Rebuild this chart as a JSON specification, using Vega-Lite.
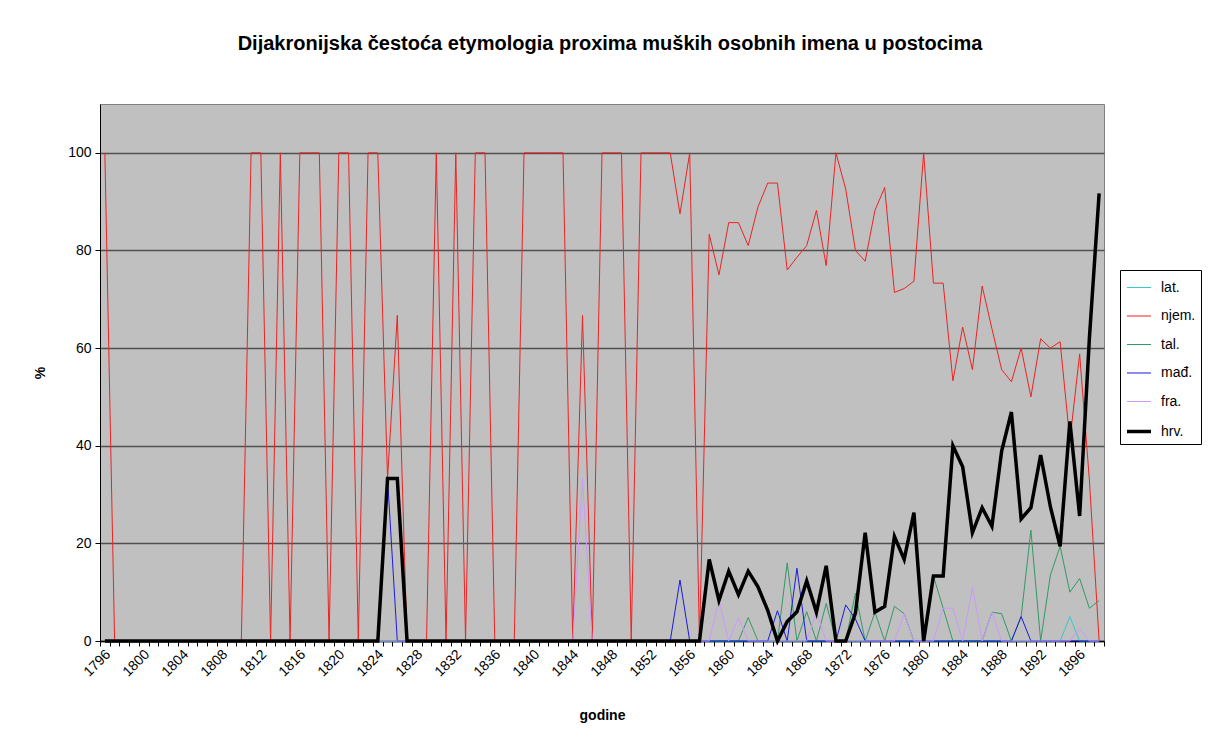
{
"$schema": "https://vega.github.io/schema/vega-lite/v6.json",
"width": 1004, "height": 537,
"autosize": {"type": "none"},
"padding": {"left": 100, "top": 104, "right": 104, "bottom": 99},
"background": "white",
"title": {"text": "Dijakronijska čestoća etymologia proxima muških osobnih imena u postocima", "fontSize": 20, "fontWeight": "bold", "font": "Liberation Sans", "offset": 50, "anchor": "middle", "dx": 8, "color": "black"},
"data": {"values": [
{"g":1796,"lat":0,"njem":100,"tal":0,"mađ":0,"fra":0,"hrv":0},
{"g":1797,"lat":0,"njem":0,"tal":0,"mađ":0,"fra":0,"hrv":0},
{"g":1798,"lat":0,"njem":0,"tal":0,"mađ":0,"fra":0,"hrv":0},
{"g":1799,"lat":0,"njem":0,"tal":0,"mađ":0,"fra":0,"hrv":0},
{"g":1800,"lat":0,"njem":0,"tal":0,"mađ":0,"fra":0,"hrv":0},
{"g":1801,"lat":0,"njem":0,"tal":0,"mađ":0,"fra":0,"hrv":0},
{"g":1802,"lat":0,"njem":0,"tal":0,"mađ":0,"fra":0,"hrv":0},
{"g":1803,"lat":0,"njem":0,"tal":0,"mađ":0,"fra":0,"hrv":0},
{"g":1804,"lat":0,"njem":0,"tal":0,"mađ":0,"fra":0,"hrv":0},
{"g":1805,"lat":0,"njem":0,"tal":0,"mađ":0,"fra":0,"hrv":0},
{"g":1806,"lat":0,"njem":0,"tal":0,"mađ":0,"fra":0,"hrv":0},
{"g":1807,"lat":0,"njem":0,"tal":0,"mađ":0,"fra":0,"hrv":0},
{"g":1808,"lat":0,"njem":0,"tal":0,"mađ":0,"fra":0,"hrv":0},
{"g":1809,"lat":0,"njem":0,"tal":0,"mađ":0,"fra":0,"hrv":0},
{"g":1810,"lat":0,"njem":0,"tal":0,"mađ":0,"fra":0,"hrv":0},
{"g":1811,"lat":0,"njem":100,"tal":0,"mađ":0,"fra":0,"hrv":0},
{"g":1812,"lat":0,"njem":100,"tal":0,"mađ":0,"fra":0,"hrv":0},
{"g":1813,"lat":0,"njem":0,"tal":0,"mađ":0,"fra":0,"hrv":0},
{"g":1814,"lat":0,"njem":100,"tal":0,"mađ":0,"fra":0,"hrv":0},
{"g":1815,"lat":0,"njem":0,"tal":0,"mađ":0,"fra":0,"hrv":0},
{"g":1816,"lat":0,"njem":100,"tal":0,"mađ":0,"fra":0,"hrv":0},
{"g":1817,"lat":0,"njem":100,"tal":0,"mađ":0,"fra":0,"hrv":0},
{"g":1818,"lat":0,"njem":100,"tal":0,"mađ":0,"fra":0,"hrv":0},
{"g":1819,"lat":0,"njem":0,"tal":0,"mađ":0,"fra":0,"hrv":0},
{"g":1820,"lat":0,"njem":100,"tal":0,"mađ":0,"fra":0,"hrv":0},
{"g":1821,"lat":0,"njem":100,"tal":0,"mađ":0,"fra":0,"hrv":0},
{"g":1822,"lat":0,"njem":0,"tal":0,"mađ":0,"fra":0,"hrv":0},
{"g":1823,"lat":0,"njem":100,"tal":0,"mađ":0,"fra":0,"hrv":0},
{"g":1824,"lat":0,"njem":100,"tal":0,"mađ":0,"fra":0,"hrv":0},
{"g":1825,"lat":0,"njem":33.3,"tal":0,"mađ":33.3,"fra":0,"hrv":33.3},
{"g":1826,"lat":0,"njem":66.7,"tal":0,"mađ":0,"fra":0,"hrv":33.3},
{"g":1827,"lat":0,"njem":0,"tal":0,"mađ":0,"fra":0,"hrv":0},
{"g":1828,"lat":0,"njem":0,"tal":0,"mađ":0,"fra":0,"hrv":0},
{"g":1829,"lat":0,"njem":0,"tal":0,"mađ":0,"fra":0,"hrv":0},
{"g":1830,"lat":0,"njem":100,"tal":0,"mađ":0,"fra":0,"hrv":0},
{"g":1831,"lat":0,"njem":0,"tal":0,"mađ":0,"fra":0,"hrv":0},
{"g":1832,"lat":0,"njem":100,"tal":0,"mađ":0,"fra":0,"hrv":0},
{"g":1833,"lat":0,"njem":0,"tal":0,"mađ":0,"fra":0,"hrv":0},
{"g":1834,"lat":0,"njem":100,"tal":0,"mađ":0,"fra":0,"hrv":0},
{"g":1835,"lat":0,"njem":100,"tal":0,"mađ":0,"fra":0,"hrv":0},
{"g":1836,"lat":0,"njem":0,"tal":0,"mađ":0,"fra":0,"hrv":0},
{"g":1837,"lat":0,"njem":0,"tal":0,"mađ":0,"fra":0,"hrv":0},
{"g":1838,"lat":0,"njem":0,"tal":0,"mađ":0,"fra":0,"hrv":0},
{"g":1839,"lat":0,"njem":100,"tal":0,"mađ":0,"fra":0,"hrv":0},
{"g":1840,"lat":0,"njem":100,"tal":0,"mađ":0,"fra":0,"hrv":0},
{"g":1841,"lat":0,"njem":100,"tal":0,"mađ":0,"fra":0,"hrv":0},
{"g":1842,"lat":0,"njem":100,"tal":0,"mađ":0,"fra":0,"hrv":0},
{"g":1843,"lat":0,"njem":100,"tal":0,"mađ":0,"fra":0,"hrv":0},
{"g":1844,"lat":0,"njem":0,"tal":0,"mađ":0,"fra":0,"hrv":0},
{"g":1845,"lat":0,"njem":66.7,"tal":0,"mađ":0,"fra":33.3,"hrv":0},
{"g":1846,"lat":0,"njem":0,"tal":0,"mađ":0,"fra":0,"hrv":0},
{"g":1847,"lat":0,"njem":100,"tal":0,"mađ":0,"fra":0,"hrv":0},
{"g":1848,"lat":0,"njem":100,"tal":0,"mađ":0,"fra":0,"hrv":0},
{"g":1849,"lat":0,"njem":100,"tal":0,"mađ":0,"fra":0,"hrv":0},
{"g":1850,"lat":0,"njem":0,"tal":0,"mađ":0,"fra":0,"hrv":0},
{"g":1851,"lat":0,"njem":100,"tal":0,"mađ":0,"fra":0,"hrv":0},
{"g":1852,"lat":0,"njem":100,"tal":0,"mađ":0,"fra":0,"hrv":0},
{"g":1853,"lat":0,"njem":100,"tal":0,"mađ":0,"fra":0,"hrv":0},
{"g":1854,"lat":0,"njem":100,"tal":0,"mađ":0,"fra":0,"hrv":0},
{"g":1855,"lat":0,"njem":87.5,"tal":0,"mađ":12.5,"fra":0,"hrv":0},
{"g":1856,"lat":0,"njem":100,"tal":0,"mađ":0,"fra":0,"hrv":0},
{"g":1857,"lat":0,"njem":0,"tal":0,"mađ":0,"fra":0,"hrv":0},
{"g":1858,"lat":0,"njem":83.3,"tal":0,"mađ":0,"fra":0,"hrv":16.7},
{"g":1859,"lat":0,"njem":75,"tal":0,"mađ":0,"fra":8.3,"hrv":8.3},
{"g":1860,"lat":0,"njem":85.7,"tal":0,"mađ":0,"fra":0,"hrv":14.3},
{"g":1861,"lat":0,"njem":85.7,"tal":0,"mađ":0,"fra":4.8,"hrv":9.5},
{"g":1862,"lat":0,"njem":81,"tal":4.8,"mađ":0,"fra":0,"hrv":14.3},
{"g":1863,"lat":0,"njem":88.9,"tal":0,"mađ":0,"fra":0,"hrv":11.1},
{"g":1864,"lat":0,"njem":93.8,"tal":0,"mađ":0,"fra":0,"hrv":6.3},
{"g":1865,"lat":0,"njem":93.8,"tal":0,"mađ":6.2,"fra":0,"hrv":0},
{"g":1866,"lat":0,"njem":76,"tal":16,"mađ":0,"fra":0,"hrv":4},
{"g":1867,"lat":0,"njem":78.6,"tal":0,"mađ":14.9,"fra":0,"hrv":6},
{"g":1868,"lat":0,"njem":81,"tal":6,"mađ":0,"fra":0,"hrv":12.3},
{"g":1869,"lat":0,"njem":88.2,"tal":0,"mađ":0,"fra":5.9,"hrv":5.9},
{"g":1870,"lat":0,"njem":76.9,"tal":7.7,"mađ":0,"fra":0,"hrv":15.4},
{"g":1871,"lat":0,"njem":100,"tal":0,"mađ":0,"fra":0,"hrv":0},
{"g":1872,"lat":0,"njem":92.6,"tal":0,"mađ":7.4,"fra":0,"hrv":0},
{"g":1873,"lat":0,"njem":80,"tal":9.8,"mađ":4.5,"fra":0,"hrv":5.7},
{"g":1874,"lat":0,"njem":77.8,"tal":0,"mađ":0,"fra":0,"hrv":22.2},
{"g":1875,"lat":0,"njem":88.2,"tal":5.9,"mađ":0,"fra":0,"hrv":5.9},
{"g":1876,"lat":0,"njem":92.9,"tal":0,"mađ":0,"fra":0,"hrv":7.1},
{"g":1877,"lat":0,"njem":71.4,"tal":7.1,"mađ":0,"fra":0,"hrv":21.4},
{"g":1878,"lat":0,"njem":72.2,"tal":5.6,"mađ":0,"fra":5.6,"hrv":16.7},
{"g":1879,"lat":0,"njem":73.7,"tal":0,"mađ":0,"fra":0,"hrv":26.3},
{"g":1880,"lat":0,"njem":100,"tal":0,"mađ":0,"fra":0,"hrv":0},
{"g":1881,"lat":0,"njem":73.3,"tal":13.3,"mađ":0,"fra":0,"hrv":13.3},
{"g":1882,"lat":0,"njem":73.3,"tal":6.7,"mađ":0,"fra":6.7,"hrv":13.3},
{"g":1883,"lat":0,"njem":53.3,"tal":0,"mađ":0,"fra":6.7,"hrv":40},
{"g":1884,"lat":0,"njem":64.3,"tal":0,"mađ":0,"fra":0,"hrv":35.7},
{"g":1885,"lat":0,"njem":55.6,"tal":0,"mađ":0,"fra":11.1,"hrv":22.2},
{"g":1886,"lat":0,"njem":72.7,"tal":0,"mađ":0,"fra":0,"hrv":27.3},
{"g":1887,"lat":0,"njem":64,"tal":5.9,"mađ":0,"fra":5.9,"hrv":23.5},
{"g":1888,"lat":0,"njem":55.6,"tal":5.6,"mađ":0,"fra":0,"hrv":38.9},
{"g":1889,"lat":0,"njem":53.1,"tal":0,"mađ":0,"fra":0,"hrv":46.9},
{"g":1890,"lat":0,"njem":60,"tal":5,"mađ":5,"fra":0,"hrv":25},
{"g":1891,"lat":0,"njem":50,"tal":22.7,"mađ":0,"fra":0,"hrv":27.3},
{"g":1892,"lat":0,"njem":61.9,"tal":0,"mađ":0,"fra":0,"hrv":38.1},
{"g":1893,"lat":0,"njem":60,"tal":13.5,"mađ":0,"fra":0,"hrv":27.5},
{"g":1894,"lat":0,"njem":61.3,"tal":19.4,"mađ":0,"fra":0,"hrv":19.4},
{"g":1895,"lat":5,"njem":41,"tal":10,"mađ":0,"fra":0,"hrv":45},
{"g":1896,"lat":0,"njem":58.8,"tal":12.8,"mađ":0,"fra":2.6,"hrv":25.6},
{"g":1897,"lat":0,"njem":33,"tal":6.7,"mađ":0,"fra":0,"hrv":62},
{"g":1898,"lat":0,"njem":0,"tal":8.3,"mađ":0,"fra":0,"hrv":91.7}
]},
"transform": [{"fold": ["lat", "njem", "tal", "mađ", "fra", "hrv"], "as": ["serija", "vrijednost"]}],
"mark": {"type": "line", "strokeJoin": "miter"},
"encoding": {
"x": {"field": "g", "type": "quantitative",
 "scale": {"domain": [1795.5, 1898.5], "nice": false, "zero": false},
 "axis": {"values": [1795.5,1796.5,1797.5,1798.5,1799.5,1800.5,1801.5,1802.5,1803.5,1804.5,1805.5,1806.5,1807.5,1808.5,1809.5,1810.5,1811.5,1812.5,1813.5,1814.5,1815.5,1816.5,1817.5,1818.5,1819.5,1820.5,1821.5,1822.5,1823.5,1824.5,1825.5,1826.5,1827.5,1828.5,1829.5,1830.5,1831.5,1832.5,1833.5,1834.5,1835.5,1836.5,1837.5,1838.5,1839.5,1840.5,1841.5,1842.5,1843.5,1844.5,1845.5,1846.5,1847.5,1848.5,1849.5,1850.5,1851.5,1852.5,1853.5,1854.5,1855.5,1856.5,1857.5,1858.5,1859.5,1860.5,1861.5,1862.5,1863.5,1864.5,1865.5,1866.5,1867.5,1868.5,1869.5,1870.5,1871.5,1872.5,1873.5,1874.5,1875.5,1876.5,1877.5,1878.5,1879.5,1880.5,1881.5,1882.5,1883.5,1884.5,1885.5,1886.5,1887.5,1888.5,1889.5,1890.5,1891.5,1892.5,1893.5,1894.5,1895.5,1896.5,1897.5,1898.5],
  "labelExpr": "(datum.value + 0.5) % 4 == 0 ? '' + (datum.value + 0.5) : ''",
  "labelAngle": -45, "labelAlign": "right", "labelBaseline": "middle",
  "labelOffset": 8, "labelPadding": 6, "labelFontSize": 14, "labelColor": "black",
  "labelOverlap": false, "labelFlush": false, "labelBound": false,
  "tickSize": 5, "tickColor": "black", "domainColor": "black", "domainWidth": 1.5, "grid": false,
  "title": "godine", "titleFontSize": 14, "titleFontWeight": "bold", "titleColor": "black", "titlePadding": 30}},
"y": {"field": "vrijednost", "type": "quantitative",
 "scale": {"domain": [0, 110], "nice": false, "zero": true},
 "axis": {"values": [0, 20, 40, 60, 80, 100], "grid": true, "gridColor": "#505050", "gridWidth": 1.3,
  "tickSize": 5, "tickColor": "black", "domainColor": "black",
  "labelFontSize": 14, "labelColor": "black", "labelPadding": 4,
  "title": "%", "titleFontSize": 14, "titleFontWeight": "bold", "titleColor": "black", "titlePadding": 20}},
"color": {"field": "serija", "type": "ordinal",
 "scale": {"domain": ["lat", "njem", "tal", "mađ", "fra", "hrv"], "range": ["#33CCCC", "#EE2222", "#339966", "#1A1AE0", "#CC99FF", "#000000"]},
 "legend": {"orient": "none", "legendX": 1020, "legendY": 166, "title": null, "symbolType": "stroke", "symbolSize": 576,
  "labelExpr": "datum.label + '.'", "labelFontSize": 14, "labelColor": "black", "labelFont": "Liberation Sans",
  "strokeColor": "black", "fillColor": "white", "padding": 5, "rowPadding": 8.5, "labelOffset": 8}},
"strokeWidth": {"field": "serija", "type": "ordinal",
 "scale": {"type": "ordinal", "domain": ["lat", "njem", "tal", "mađ", "fra", "hrv"], "range": [1, 1, 1, 1, 1, 3.5]},
 "legend": {"orient": "none", "legendX": 1020, "legendY": 166, "title": null, "symbolType": "stroke", "symbolSize": 576,
  "labelExpr": "datum.label + '.'", "labelFontSize": 14, "labelColor": "black", "labelFont": "Liberation Sans",
  "strokeColor": "black", "fillColor": "white", "padding": 5, "rowPadding": 8.5, "labelOffset": 8}}
},
"config": {
 "view": {"fill": "#C0C0C0", "stroke": "#808080", "strokeWidth": 1},
 "font": "Liberation Sans",
 "axis": {"labelFont": "Liberation Sans", "titleFont": "Liberation Sans"}
}
}
